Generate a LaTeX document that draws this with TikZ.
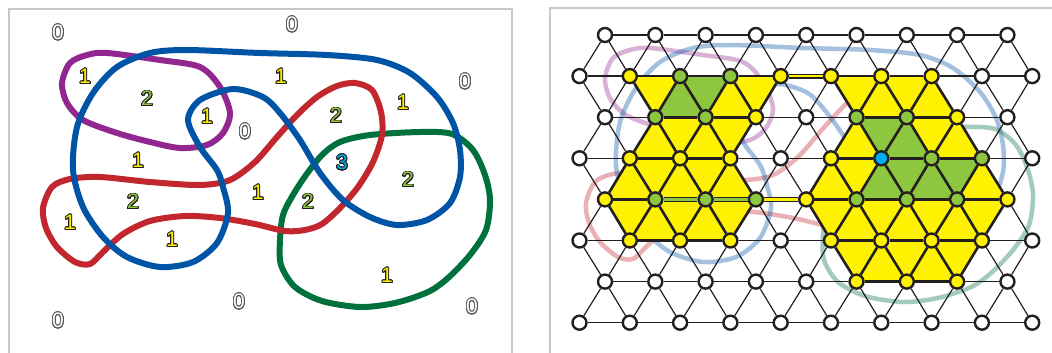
\documentclass[tikz,border=0pt]{standalone}
\usepackage{xcolor}
\usepackage{tikz}
\usepackage{fontspec}
\usepackage{contour}
\usetikzlibrary{backgrounds}

\setmainfont{Liberation Sans}
\contourlength{0.85pt}
\contournumber{32}

\definecolor{ink}{HTML}{231F20}
\definecolor{panelgray}{HTML}{C8C8C8}
\definecolor{loopPurple}{HTML}{92278F}
\definecolor{loopBlue}{HTML}{0054A6}
\definecolor{loopRed}{HTML}{C1272D}
\definecolor{loopGreen}{HTML}{00703C}
\definecolor{numfill0}{HTML}{FFFFFF}
\definecolor{numfill1}{HTML}{FFF200}
\definecolor{numfill2}{HTML}{8DC63F}
\definecolor{numfill3}{HTML}{00AEEF}
\definecolor{numrim0}{HTML}{58595B}
\definecolor{numrim1}{HTML}{231F20}
\definecolor{numrim2}{HTML}{231F20}
\definecolor{numrim3}{HTML}{231F20}

\begin{document}
\begin{tikzpicture}[
  x=1pt, y=-1pt,
  panel/.style={draw=panelgray, line width=2.5pt},
  num/.style={font=\fontsize{21}{21}\selectfont, inner sep=0pt},
  site/.style={circle, draw=ink, line width=2.4pt, minimum size=14pt, inner sep=0pt},
  site0/.style={site, fill=white},
  site1/.style={site, fill=numfill1},
  site2/.style={site, fill=numfill2},
  site3/.style={site, fill=numfill3},
  link0/.style={draw=ink, line width=1.2pt},
  link1/.style={draw=ink, line width=2.6pt},
  link2/.style={link1},
  link3/.style={link1},
  band/.style={draw=ink, line width=1.3pt, double=#1, double distance=2.4pt}
]
  \useasboundingbox (0,0) rectangle (1052,353);

  % the two panels
  \draw[panel] (9,360) -- (9,9) -- (512,9) -- (512,360);
  \draw[panel] (550,360) -- (550,8) -- (1060,8);

  % counts of the regions
  \foreach \x/\y/\n [count=\c] in {58/33/0, 292/25/0, 85/77/1, 147/99/2, 207/117/1, 245/132/0,
      281/77/1, 465/82/0, 403/103/1, 336/116/2, 342/163/3, 408/180/2, 138/161/1, 133/202/2,
      70/223/1, 172/240/1, 258/193/1, 308/202/2, 387/276/1, 239/302/0, 58/321/0, 472/307/0}
    \node[num, text=numfill\n] (w\c) at (\x,\y) {\contour{numrim\n}{\n}};

  % lattice sites, value = number of loops around the site
  \foreach \row [count=\r from 0] in {
      {0,0,0,0,0,0,0,0,0},
      {0,1,2,2,1,1,1,1,0,0},
      {0,2,2,1,0,2,2,1,0},
      {0,1,1,1,0,1,3,2,2,0},
      {1,2,2,2,1,2,2,2,1},
      {0,1,1,1,0,1,1,1,1,0},
      {0,0,0,0,0,1,1,1,0},
      {0,0,0,0,0,0,0,0,0,0}} {
    \pgfmathsetmacro\xo{mod(\r,2)==0 ? 605 : 579.5}
    \foreach \v [count=\k from 0] in \row {
      \node[site\v] (n-\r-\k) at (\xo+50.3*\k, 35+41.1*\r) {};
      \expandafter\xdef\csname val-\r-\k\endcsname{\v}
    }
  }

  \begin{scope}[on background layer]
    % loops, full on the left and faded behind the lattice
    \foreach \dx/\dy/\op/\lw in {0/0/1/6pt, 543/-5/0.36/4.5pt} {
      \begin{scope}[shift={(\dx,\dy)}, opacity=\op, line width=\lw]
        \draw[loopGreen] plot[smooth cycle] coordinates {(280,240) (283,215) (293,195) (306,175)
          (322,155) (340,142) (370,135) (420,132) (452,134) (473,150) (485,175) (490,200)
          (486,230) (470,255) (448,278) (428,292) (395,303) (360,307) (322,301) (295,287) (281,265)};
        \draw[loopRed] plot[smooth cycle] coordinates {(43,208) (52,187) (70,179) (100,177)
          (150,182) (200,185) (230,180) (255,162) (277,137) (297,115) (317,97) (337,86) (355,83)
          (372,90) (381,112) (382,135) (373,162) (358,187) (340,208) (322,224) (305,230)
          (285,231) (255,224) (220,218) (185,216) (150,221) (123,234) (103,252) (90,264)
          (75,262) (57,247) (46,228)};
        \draw[loopPurple] plot[smooth cycle] coordinates {(62,83) (70,63) (87,55) (107,53)
          (160,60) (200,67) (220,87) (230,113) (223,133) (207,145) (180,148) (150,142)
          (117,133) (83,120) (67,103)};
        \draw[loopBlue] plot[smooth cycle] coordinates {(150,53) (187,50) (260,53) (327,55)
          (377,60) (410,73) (437,97) (453,123) (460,150) (460,177) (450,203) (427,220)
          (397,225) (370,217) (343,200) (320,173) (300,140) (280,113) (263,97) (233,89)
          (200,100) (188,120) (200,147) (217,170) (223,187) (228,213) (217,243) (193,262)
          (160,267) (127,257) (103,237) (83,207) (73,170) (77,127) (93,93) (117,67)};
      \end{scope}
    }

    % covered triangles
    \fill[numfill1] (n-1-1.center) -- (n-1-4.center) -- (n-2-3.center) -- (n-3-3.center)
      -- (n-4-3.center) -- (n-5-3.center) -- (n-5-1.center) -- (n-4-0.center)
      -- (n-3-1.center) -- (n-2-1.center) -- cycle;
    \fill[numfill2] (n-1-2.center) -- (n-1-3.center) -- (n-2-2.center) -- (n-2-1.center) -- cycle;
    \fill[numfill1] (n-1-5.center) -- (n-1-7.center) -- (n-2-7.center) -- (n-3-8.center)
      -- (n-4-8.center) -- (n-5-8.center) -- (n-6-7.center) -- (n-6-5.center)
      -- (n-5-5.center) -- (n-4-4.center) -- (n-3-5.center) -- (n-2-5.center) -- cycle;
    \fill[numfill2] (n-2-5.center) -- (n-2-6.center) -- (n-3-7.center) -- (n-3-8.center)
      -- (n-4-7.center) -- (n-4-5.center) -- (n-3-6.center) -- cycle;

    % bonds along the rows
    \foreach \r/\n in {0/8,1/9,2/8,3/9,4/8,5/9,6/8,7/9}
      \foreach \k in {1,...,\n} {
        \pgfmathtruncatemacro\j{\k-1}
        \pgfmathtruncatemacro\w{min(\csname val-\r-\j\endcsname,\csname val-\r-\k\endcsname)}
        \draw[link\w] (n-\r-\j) -- (n-\r-\k);
      }
    % slanted bonds
    \foreach \e/\o in {0/1,2/1,2/3,4/3,4/5,6/5,6/7}
      \foreach \k in {0,...,8}
        \foreach \d in {0,1} {
          \pgfmathtruncatemacro\j{\k+\d}
          \pgfmathtruncatemacro\w{min(\csname val-\e-\k\endcsname,\csname val-\o-\j\endcsname)}
          \draw[link\w] (n-\e-\k) -- (n-\o-\j);
        }

    \draw[band=numfill1] (n-1-4) -- (n-1-5);
    \draw[band=numfill1] (n-4-3) -- (n-4-4);
    \draw[band=numfill2] (n-4-1) -- (n-4-2);
    \draw[band=numfill2] (n-4-2) -- (n-4-3);
  \end{scope}
\end{tikzpicture}
\end{document}
